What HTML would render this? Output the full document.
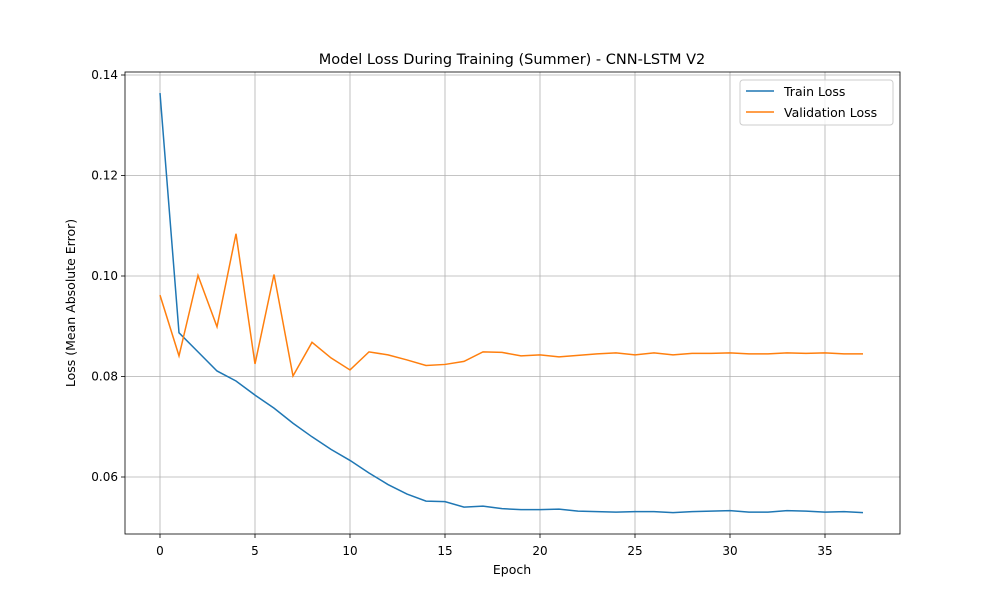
<!DOCTYPE html>
<html><head><meta charset="utf-8"><style>body{margin:0;background:#fff}svg{font-family:"DejaVu Sans","Liberation Sans",sans-serif}</style></head>
<body>
<svg id="chart" width="1000" height="600"></svg>
<script>
const epochs = Array.from({length:38},(_,i)=>i);
const trainLoss = [0.1364,0.0887,0.0849,0.0811,0.0791,0.0763,0.0737,0.0707,0.0680,0.0655,0.0633,0.0608,0.0585,0.0566,0.0552,0.0551,0.0540,0.0542,0.0537,0.0535,0.0535,0.0536,0.0532,0.0531,0.0530,0.0531,0.0531,0.0529,0.0531,0.0532,0.0533,0.0530,0.0530,0.0533,0.0532,0.0530,0.0531,0.0529];
const valLoss = [0.0962,0.0841,0.1001,0.0899,0.1084,0.0825,0.1003,0.0801,0.0868,0.0837,0.0813,0.0849,0.0843,0.0833,0.0822,0.0824,0.0830,0.0849,0.0848,0.0841,0.0843,0.0839,0.0842,0.0845,0.0847,0.0843,0.0847,0.0843,0.0846,0.0846,0.0847,0.0845,0.0845,0.0847,0.0846,0.0847,0.0845,0.0845];
const xTicks = [0,5,10,15,20,25,30,35];
const yTicks = [0.06,0.08,0.10,0.12,0.14];
const L=125,R=900,T=72,B=534;
const x=v=>160+v*19;
const y=v=>75+(0.14-v)*5025;
const svg=document.getElementById('chart');
const NS='http://www.w3.org/2000/svg';
function mk(tag,attrs,parent){const e=document.createElementNS(NS,tag);for(const k in attrs)e.setAttribute(k,attrs[k]);(parent||svg).appendChild(e);return e;}
const grid=mk('g',{});


xTicks.forEach(t=>{
  mk('line',{x1:x(t),x2:x(t),y1:T,y2:B,stroke:'#b0b0b0','stroke-width':0.8},grid);
  mk('line',{x1:x(t),x2:x(t),y1:B,y2:B+4,stroke:'#000','stroke-width':0.8});
  const tx=mk('text',{x:x(t),y:B+21,'text-anchor':'middle','font-size':12});
  tx.textContent=t;
  
  
});
yTicks.forEach(t=>{
  mk('line',{x1:L,x2:R,y1:y(t),y2:y(t),stroke:'#b0b0b0','stroke-width':0.8},grid);
  mk('line',{x1:L-4,x2:L,y1:y(t),y2:y(t),stroke:'#000','stroke-width':0.8});
  const tx=mk('text',{x:L-7,y:y(t)+4,'text-anchor':'end','font-size':12});
  tx.textContent=t.toFixed(2);
  
  
});
const p1=mk('polyline',{points:epochs.map((e,i)=>x(e)+','+y(trainLoss[i])).join(' '),fill:'none',stroke:'#1f77b4','stroke-width':1.5});


const p2=mk('polyline',{points:epochs.map((e,i)=>x(e)+','+y(valLoss[i])).join(' '),fill:'none',stroke:'#ff7f0e','stroke-width':1.5});


const frame=mk('rect',{x:L,y:T,width:R-L,height:B-T,fill:'none',stroke:'#000','stroke-width':0.8});


const title=mk('text',{x:512,y:64,'text-anchor':'middle','font-size':14.5});
title.textContent='Model Loss During Training (Summer) - CNN-LSTM V2';


const xl=mk('text',{x:512,y:574,'text-anchor':'middle','font-size':12.5});
xl.textContent='Epoch';


const yl=mk('text',{x:0,y:0,'text-anchor':'middle','font-size':12.5,transform:'translate(75,303) rotate(-90)'});
yl.textContent='Loss (Mean Absolute Error)';


const lg=mk('g',{});


mk('rect',{x:740,y:80,width:153,height:45,rx:3,fill:'#fff','fill-opacity':0.8,stroke:'#ccc'},lg);
mk('line',{x1:746,x2:774,y1:91,y2:91,stroke:'#1f77b4','stroke-width':1.5},lg);
mk('line',{x1:746,x2:774,y1:112,y2:112,stroke:'#ff7f0e','stroke-width':1.5},lg);
const l1=mk('text',{x:784,y:96,'font-size':12.5},lg);l1.textContent='Train Loss';


const l2=mk('text',{x:784,y:117,'font-size':12.5},lg);l2.textContent='Validation Loss';


</script>
</body></html>
